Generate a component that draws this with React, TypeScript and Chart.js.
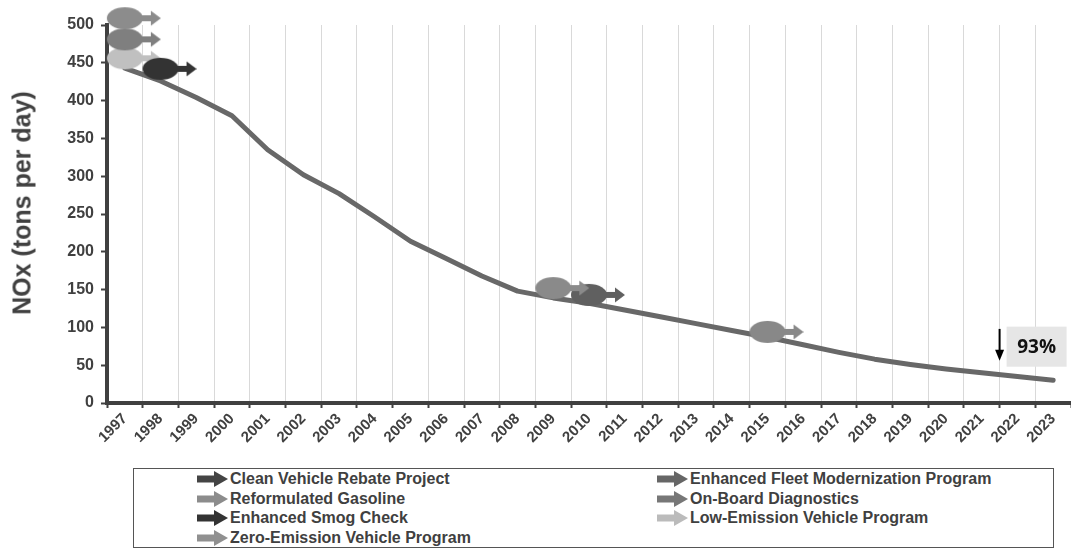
import React, { useEffect, useRef } from 'react';
import { Chart, registerables } from 'chart.js';

Chart.register(...registerables);

// ---------- data ----------
const YEARS = ['1997', '1998', '1999', '2000', '2001', '2002', '2003', '2004', '2005', '2006', '2007', '2008', '2009', '2010', '2011', '2012', '2013', '2014', '2015', '2016', '2017', '2018', '2019', '2020', '2021', '2022', '2023'];
const NOX = [443, 426, 404, 380, 335, 302, 277, 246, 214, 191, 168, 148, 139, 132, 123, 114, 105, 96, 87, 77, 67, 58, 51, 45, 40, 35, 30];

const Y_TICK_MIN = 0;
const Y_TICK_MAX = 500;
const Y_TICK_STEP = 50;
const Y_TITLE = 'NOx (tons per day)';

// programs (legend order, row-major in two columns)
const PROGRAMS = [
  'Clean Vehicle Rebate Project',
  'Enhanced Fleet Modernization Program',
  'Reformulated Gasoline',
  'On-Board Diagnostics',
  'Enhanced Smog Check',
  'Low-Emission Vehicle Program',
  'Zero-Emission Vehicle Program',
];
const PROGRAM_YEARS = ['2009', '2010', '1997', '1997', '1998', '1997', '2015'];
const PROGRAM_NOX = [152, 143, 509, 481, 442, 456, 94];
const MARKER_COLORS = ['#8a8a8a', '#606060', '#8c8c8c', '#7f7f7f', '#333333', '#c0c0c0', '#888888'];
const LEGEND_COLORS = ['#444444', '#666666', '#8c8c8c', '#777777', '#333333', '#bbbbbb', '#909090'];

// annotation
const REDUCTION_LABEL = '93%';
const REDUCTION_X = 24.5; // category position
const REDUCTION_FROM = 98;
const REDUCTION_TO = 56;
const REDUCTION_BOX_TOP = 101;
const REDUCTION_BOX_BOTTOM = 48;

const TEXT = '#404040';
const FONT = "'Liberation Sans', Arial, sans-serif";

function makeMarker(color: string): HTMLCanvasElement {
  const c = document.createElement('canvas');
  c.width = 72;
  c.height = 24;
  const g = c.getContext('2d')!;
  g.fillStyle = color;
  g.beginPath();
  g.ellipse(36, 12, 18, 11, 0, 0, Math.PI * 2);
  g.fill();
  g.beginPath();
  g.moveTo(50, 9);
  g.lineTo(62, 9);
  g.lineTo(62, 4.5);
  g.lineTo(72, 12);
  g.lineTo(62, 19.5);
  g.lineTo(62, 15);
  g.lineTo(50, 15);
  g.closePath();
  g.fill();
  return c;
}

const annotationPlugin = {
  id: 'reductionAnnotation',
  afterDatasetsDraw(chart: any) {
    const { ctx, scales } = chart;
    const x = scales.x.getPixelForValue(REDUCTION_X);
    const y1 = scales.y.getPixelForValue(REDUCTION_FROM);
    const y2 = scales.y.getPixelForValue(REDUCTION_TO);
    ctx.save();
    ctx.strokeStyle = '#000';
    ctx.fillStyle = '#000';
    ctx.lineWidth = 2;
    ctx.beginPath();
    ctx.moveTo(x, y1);
    ctx.lineTo(x, y2 - 9);
    ctx.stroke();
    ctx.beginPath();
    ctx.moveTo(x - 4.5, y2 - 11);
    ctx.lineTo(x + 4.5, y2 - 11);
    ctx.lineTo(x, y2);
    ctx.closePath();
    ctx.fill();
    const bt = scales.y.getPixelForValue(REDUCTION_BOX_TOP);
    const bb = scales.y.getPixelForValue(REDUCTION_BOX_BOTTOM);
    const bl = x + 7;
    const bw = 60;
    ctx.fillStyle = '#e6e6e6';
    ctx.fillRect(bl, bt, bw, bb - bt);
    ctx.fillStyle = '#111';
    ctx.font = "bold 19px 'Open Sans', sans-serif";
    ctx.textAlign = 'center';
    ctx.textBaseline = 'middle';
    ctx.fillText(REDUCTION_LABEL, bl + bw / 2, (bt + bb) / 2 + 1);
    ctx.restore();
  },
};

function LegendArrow({ color }: { color: string }) {
  return (
    <svg width={31} height={18} style={{ display: 'block', flex: 'none' }}>
      <polygon points="0,5.5 17,5.5 17,1 31,9 17,17 17,12.5 0,12.5" fill={color} />
    </svg>
  );
}

export default function App() {
  const ref = useRef<HTMLCanvasElement>(null);

  useEffect(() => {
    const canvas = ref.current!;
    const markerDatasets = PROGRAMS.map((name, i) => ({
      label: name,
      data: [{ x: PROGRAM_YEARS[i], y: PROGRAM_NOX[i] }],
      pointStyle: makeMarker(MARKER_COLORS[i]),
      pointRadius: 12,
      showLine: false,
      clip: false as any,
      order: i,
      borderColor: MARKER_COLORS[i],
      backgroundColor: MARKER_COLORS[i],
    }));
    const chart = new Chart(canvas, {
      type: 'line',
      data: {
        labels: YEARS,
        datasets: [
          ...markerDatasets,
          {
            label: 'NOx',
            data: NOX,
            borderColor: '#686868',
            borderWidth: 5,
            pointRadius: 0,
            tension: 0,
            borderCapStyle: 'round',
            borderJoinStyle: 'round',
            order: 100,
          } as any,
        ],
      },
      options: {
        animation: false,
        responsive: false,
        layout: { autoPadding: false, padding: { top: 25, right: 0, bottom: 0, left: 0 } },
        plugins: {
          legend: { display: false },
          tooltip: { enabled: false },
        },
        scales: {
          x: {
            type: 'category',
            offset: true,
            afterFit: (s: any) => {
              s.height = 146;
              s.paddingLeft = 0;
              s.paddingRight = 0;
            },
            grid: {
              offset: true,
              color: '#d9d9d9',
              lineWidth: 1,
              tickLength: 5,
              tickColor: TEXT,
              tickWidth: 2,
            },
            border: { color: TEXT, width: 4 },
            ticks: {
              autoSkip: false,
              minRotation: 45,
              maxRotation: 45,
              padding: 2,
              color: TEXT,
              font: { family: FONT, size: 15, weight: 'bold' },
            },
          },
          y: {
            min: Y_TICK_MIN,
            max: Y_TICK_MAX,
            afterFit: (s: any) => {
              s.width = 107;
            },
            grid: {
              drawOnChartArea: false,
              tickLength: 6,
              tickColor: TEXT,
              tickWidth: 2,
            },
            border: { color: TEXT, width: 4 },
            ticks: {
              stepSize: Y_TICK_STEP,
              padding: 7,
              color: TEXT,
              font: { family: FONT, size: 16, weight: 'bold' },
            },
          },
        },
      },
      plugins: [annotationPlugin],
    } as any);
    return () => chart.destroy();
  }, []);

  return (
    <div style={{ position: 'absolute', left: 0, top: 0, width: 1071, height: 549, background: '#fff', overflow: 'hidden' }}>
      <canvas ref={ref} width={1071} height={549} style={{ position: 'absolute', left: 0, top: 0, width: 1071, height: 549 }} />
      <div
        style={{
          position: 'absolute',
          left: 22,
          top: 203,
          transform: 'translate(-50%, -50%) rotate(-90deg)',
          whiteSpace: 'nowrap',
          fontFamily: FONT,
          fontWeight: 'bold',
          fontSize: 25,
          lineHeight: '29px',
          color: TEXT,
        }}
      >
        {Y_TITLE}
      </div>
      <div
        style={{
          position: 'absolute',
          left: 133,
          top: 468,
          width: 921,
          height: 80,
          boxSizing: 'border-box',
          border: '1.5px solid #555',
          background: '#fff',
        }}
      >
        {PROGRAMS.map((name, i) => {
          const row = Math.floor(i / 2);
          const col = i % 2;
          return (
            <div
              key={name}
              style={{
                position: 'absolute',
                left: col === 0 ? 63 : 523,
                top: row * 19.7,
                height: 20,
                display: 'flex',
                alignItems: 'center',
                whiteSpace: 'nowrap',
                fontFamily: FONT,
                fontWeight: 'bold',
                fontSize: 16,
                color: TEXT,
              }}
            >
              <LegendArrow color={LEGEND_COLORS[i]} />
              <span style={{ marginLeft: 2 }}>{name}</span>
            </div>
          );
        })}
      </div>
    </div>
  );
}
